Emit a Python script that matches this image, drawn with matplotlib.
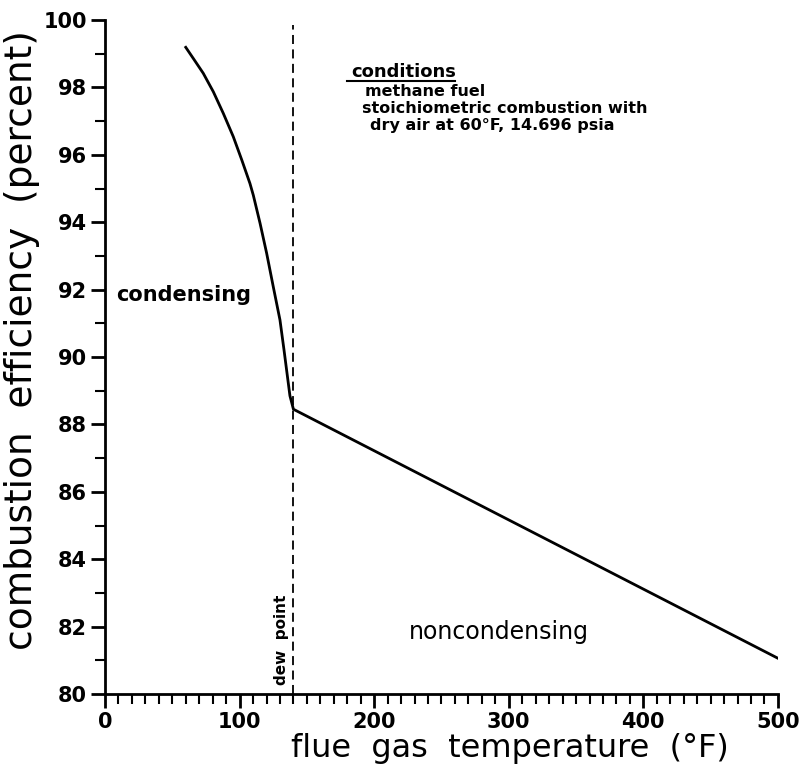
import matplotlib.pyplot as plt
from matplotlib.ticker import MultipleLocator

# Efficiency curve
temp_f = [60, 65.6, 73, 80.5, 87.9, 95.3, 101.6, 107.7, 110.2, 115.2, 120.1,
          125, 130, 133, 137.4, 140, 500]
efficiency = [99.19, 98.86, 98.42, 97.87, 97.23, 96.54, 95.85, 95.15, 94.8,
              93.97, 93.08, 92.09, 91.1, 90.21, 88.85, 88.45, 81.06]
dew_point = 140

conditions = ["methane fuel",
              "stoichiometric combustion with",
              "dry air at 60°F, 14.696 psia"]
cond_x = [193, 191, 197]

fig = plt.figure(figsize=(8.04, 7.70), dpi=100)
ax = fig.add_axes([0.1306, 0.0987, 0.837, 0.8753])

ax.plot(temp_f, efficiency, color='black', lw=2)
ax.plot([dew_point, dew_point], [80, 99.85], color='black', lw=1.3, ls=(0, (5, 3)))

ax.set_xlim(0, 500)
ax.set_ylim(80, 100)
ax.xaxis.set_major_locator(MultipleLocator(100))
ax.xaxis.set_minor_locator(MultipleLocator(10))
ax.yaxis.set_major_locator(MultipleLocator(2))
ax.yaxis.set_minor_locator(MultipleLocator(1))
ax.tick_params(which='major', length=10, width=2, labelsize=15, pad=3)
ax.tick_params(which='minor', length=7, width=1.5)
for lbl in ax.get_xticklabels() + ax.get_yticklabels():
    lbl.set_fontweight('bold')

for s in ['top', 'right']:
    ax.spines[s].set_visible(False)
for s in ['left', 'bottom']:
    ax.spines[s].set_linewidth(2)

ax.set_xlabel('flue  gas  temperature  (°F)', fontsize=23)
ax.set_ylabel('combustion  efficiency  (percent)', fontsize=27)
ax.xaxis.set_label_coords(0.602, -0.058)
ax.yaxis.set_label_coords(-0.096, 0.525)

# Region labels
ax.text(8, 91.85, 'condensing', fontsize=15, fontweight='bold', va='center')
ax.text(226, 81.85, 'noncondensing', fontsize=17, va='center')
ax.text(dew_point - 3, 81.6, 'dew  point', fontsize=11, fontweight='bold',
        rotation=90, ha='right', va='center')

# Conditions note
ax.text(183, 98.3, 'conditions', fontsize=13, fontweight='bold', va='baseline')
ax.plot([179.5, 260], [98.18, 98.18], color='black', lw=1.5)
for i, line in enumerate(conditions):
    ax.text(cond_x[i], 98.1 - i * 0.5, line, fontsize=11.5, fontweight='bold', va='top')

fig.savefig('out.png', dpi=100)
